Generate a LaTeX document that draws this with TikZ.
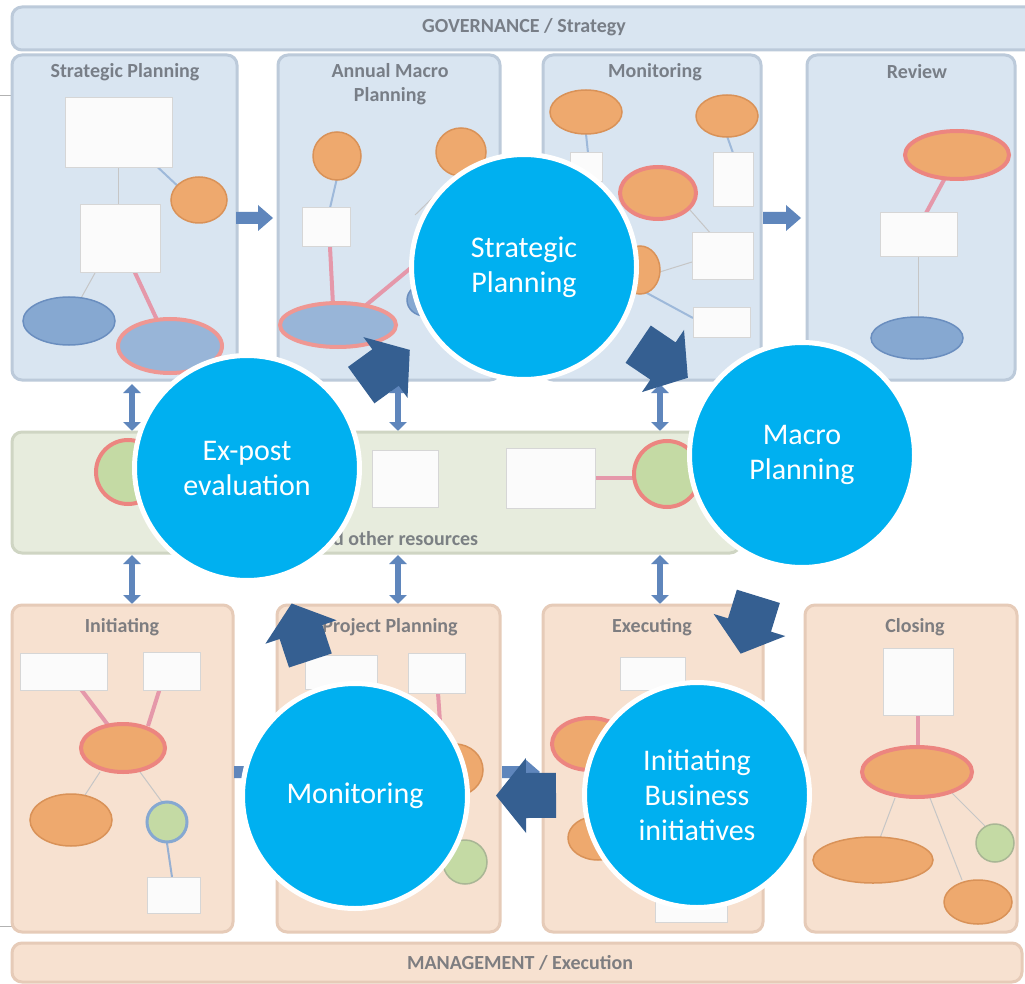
\documentclass[tikz,border=0pt]{standalone}
\usepackage{fontspec}
\setmainfont{Carlito}
\usetikzlibrary{calc,arrows.meta}

\definecolor{cyanc}{HTML}{00B0F0}
\definecolor{arrowblue}{HTML}{355F91}
\definecolor{topfill}{HTML}{D9E5F1}
\definecolor{topedge}{HTML}{BCCADA}
\definecolor{greenfill}{HTML}{E7ECDD}
\definecolor{greenedge}{HTML}{CFD5C3}
\definecolor{peach}{HTML}{F7E1D0}
\definecolor{peachedge}{HTML}{E6CBB8}
\definecolor{orangeE}{HTML}{EEA96E}
\definecolor{orangeEdge}{HTML}{D99258}
\definecolor{redring}{HTML}{EC8580}
\definecolor{blueE}{HTML}{86A8D1}
\definecolor{blueEdge}{HTML}{6A8EBF}
\definecolor{pinkline}{HTML}{E598AA}
\definecolor{docfill}{HTML}{FBFBFB}
\definecolor{docedge}{HTML}{D6D6D6}
\definecolor{smallarrow}{HTML}{5F86BC}
\definecolor{titlegray}{HTML}{60656D}
\definecolor{greenC}{HTML}{C4DAA4}

\tikzset{
  panel/.style={rounded corners=10pt, line width=3pt},
  toppanel/.style={panel, fill=topfill, draw=topedge},
  greenpanel/.style={panel, fill=greenfill, draw=greenedge},
  peachpanel/.style={panel, fill=peach, draw=peachedge},
  ttl/.style={text=titlegray, font=\fontsize{20}{24}\selectfont\bfseries, opacity=0.8, align=center},
  doc/.style={fill=docfill, draw=docedge, line width=1pt},
  orangeell/.style={fill=orangeE, draw=orangeEdge, line width=1.5pt},
  redringell/.style={fill=orangeE, draw=redring, line width=4pt},
  blueell/.style={fill=blueE, draw=blueEdge, line width=1.5pt},
  blueredell/.style={fill=blueE!85!white, draw=redring!85!white, line width=4pt},
  greenring/.style={fill=greenC, draw=redring, line width=4pt},
  pinkln/.style={draw=pinkline, line width=4pt},
  grayln/.style={draw=gray!45, line width=1pt},
  blueln/.style={draw=blueE!80!white, line width=2pt},
  smallarr/.style={fill=smallarrow},
  vdouble/.style={draw=smallarrow, line width=6pt,
    {Triangle[width=17pt,length=9pt]}-{Triangle[width=17pt,length=9pt]}},
  stage/.style={circle, fill=cyanc, draw=white, line width=5pt,
    minimum size=225pt, inner sep=0pt, text=white, align=center,
    font=\fontsize{30}{35}\selectfont},
  blockarrow/.style={fill=arrowblue, draw=none, to path={
    ($(\tikztostart)!0.5!(\tikztotarget)$) coordinate (ba-m)
    ($(ba-m)!30pt!(\tikztotarget)$) coordinate (ba-t)
    ($(ba-m)!-30pt!(\tikztotarget)$) coordinate (ba-s)
    ($(ba-s)!22.5pt!90:(\tikztotarget)$) -- ($(ba-m)!22.5pt!90:(\tikztotarget)$)
    -- ($(ba-m)!37.5pt!90:(\tikztotarget)$) -- (ba-t)
    -- ($(ba-m)!37.5pt!-90:(\tikztotarget)$) -- ($(ba-m)!22.5pt!-90:(\tikztotarget)$)
    -- ($(ba-s)!22.5pt!-90:(\tikztotarget)$) -- cycle}}
}

\begin{document}
\begin{tikzpicture}[x=1pt,y=-1pt]
\useasboundingbox (0,0) rectangle (1025,984);
\fill[white] (0,0) rectangle (1025,984);

% left edge rules
\draw[gray!60, line width=1pt] (0,96) -- (12,96);
\draw[gray!60, line width=1pt] (0,926) -- (12,926);

% top bar
\draw[panel, fill=topfill, draw=topedge] (12,7) rectangle (1045,50);
\node[ttl] (gov) at (524,27) {GOVERNANCE / Strategy};

% top panels
\draw[toppanel] (12,55) rectangle (237,380);
\draw[toppanel] (278,55) rectangle (500,380);
\draw[toppanel] (543,55) rectangle (761,380);
\draw[toppanel] (807,55) rectangle (1015,380);
\node[ttl] (t1) at (125,72) {Strategic Planning};
\node[ttl] (t2) at (390,84) {Annual Macro\\Planning};
\node[ttl] (t3) at (655,72) {Monitoring};
\node[ttl] (t4) at (917,72) {Review};

% arrows between top panels
\fill[smallarr] (236,212) -- (258,212) -- (258,205) -- (273,218) -- (258,231) -- (258,224) -- (236,224) -- cycle;
\fill[smallarr] (502,212) -- (526,212) -- (526,205) -- (541,218) -- (526,231) -- (526,224) -- (502,224) -- cycle;
\fill[smallarr] (763,212) -- (786,212) -- (786,205) -- (801,218) -- (786,231) -- (786,224) -- (763,224) -- cycle;

% panel 1 content
\draw[blueln] (150,160) -- (182,190);
\draw[grayln] (118,168) -- (118,205);
\draw[grayln] (95,273) -- (80,300);
\draw[pinkln] (130,262) -- (158,322);
\draw[doc] (65,98) rectangle (172,168);
\draw[doc] (80,205) rectangle (160,273);
\draw[orangeell] (199,200) ellipse [x radius=28, y radius=23];
\draw[blueell] (69,321) ellipse [x radius=46, y radius=24];
\draw[blueredell] (170,346) ellipse [x radius=52, y radius=27];

% panel 2 content
\draw[blueln] (337,178) -- (330,208);
\draw[grayln] (455,176) -- (415,215);
\draw[pinkln] (330,247) -- (333,305);
\draw[pinkln] (365,306) -- (418,262);
\draw[doc] (302,208) rectangle (350,247);
\draw[orangeell] (337,156) ellipse [x radius=24, y radius=24];
\draw[orangeell] (461,152) ellipse [x radius=25, y radius=24];
\draw[blueredell] (338,325) ellipse [x radius=58, y radius=22];
\draw[blueell] (425,300) ellipse [x radius=18, y radius=16];

% panel 3 content
\draw[blueln] (586,134) -- (588,153);
\draw[blueln] (727,136) -- (733,153);
\draw[grayln] (690,210) -- (712,235);
\draw[grayln] (650,275) -- (692,262);
\draw[blueln] (645,292) -- (693,318);
\draw[doc] (570,153) rectangle (602,182);
\draw[doc] (713,153) rectangle (753,207);
\draw[doc] (692,233) rectangle (753,280);
\draw[doc] (693,307) rectangle (750,337);
\draw[orangeell] (586,112) ellipse [x radius=36, y radius=22];
\draw[orangeell] (727,116) ellipse [x radius=31, y radius=21];
\draw[redringell] (658,193) ellipse [x radius=38, y radius=26];
\draw[orangeell] (640,270) ellipse [x radius=20, y radius=24];

% panel 4 content
\draw[pinkln] (945,178) -- (925,215);
\draw[grayln] (918,257) -- (918,318);
\draw[doc] (880,213) rectangle (957,257);
\draw[redringell] (957,155) ellipse [x radius=52, y radius=24];
\draw[blueell] (917,338) ellipse [x radius=46, y radius=21];

% vertical double arrows
\foreach \xx in {132,398,660}{
  \draw[vdouble] (\xx,384) -- (\xx,431);
  \draw[vdouble] (\xx,555) -- (\xx,604);
}

% green band
\draw[greenpanel] (12,432) rectangle (740,553);
\draw[greenring] (128,472) circle [radius=32];
\draw[pinkln] (595,478) -- (640,478);
\draw[doc] (372,450) rectangle (438,507);
\draw[doc] (506,448) rectangle (595,508);
\draw[greenring] (667,474) circle [radius=33];
\node[ttl, anchor=west] (res) at (309,539) {and other resources};

% bottom panels
\draw[peachpanel] (12,605) rectangle (233,932);
\draw[peachpanel] (277,605) rectangle (500,932);
\draw[peachpanel] (543,605) rectangle (763,932);
\draw[peachpanel] (805,605) rectangle (1017,932);
\node[ttl] (b1) at (122,627) {Initiating};
\node[ttl] (b2) at (390,627) {Project Planning};
\node[ttl] (b3) at (652,627) {Executing};
\node[ttl] (b4) at (915,627) {Closing};

% arrows between bottom panels
\fill[smallarr] (234,766) -- (256,766) -- (256,759) -- (271,772) -- (256,785) -- (256,778) -- (234,778) -- cycle;
\fill[smallarr] (502,766) -- (525,766) -- (525,759) -- (540,772) -- (525,785) -- (525,778) -- (502,778) -- cycle;
\fill[smallarr] (765,766) -- (787,766) -- (787,759) -- (802,772) -- (787,785) -- (787,778) -- (765,778) -- cycle;

% Initiating content
\draw[pinkln] (80,688) -- (108,725);
\draw[pinkln] (160,688) -- (148,726);
\draw[grayln] (100,772) -- (85,795);
\draw[grayln] (140,772) -- (162,802);
\draw[draw=blueEdge!70, line width=2pt] (167,843) -- (172,877);
\draw[doc] (20,653) rectangle (107,690);
\draw[doc] (143,652) rectangle (200,690);
\draw[redringell] (123,748) ellipse [x radius=42, y radius=24];
\draw[orangeell] (71,820) ellipse [x radius=41, y radius=26];
\draw[fill=greenC, draw=blueE, line width=3pt] (167,822) circle [radius=20];
\draw[doc] (147,877) rectangle (200,913);

% Project planning content
\draw[pinkln] (438,693) -- (440,722);
\draw[doc] (305,655) rectangle (377,689);
\draw[doc] (408,653) rectangle (465,693);
\draw[orangeell] (455,770) ellipse [x radius=28, y radius=26];
\draw[fill=greenC, draw=greenC!60!gray, line width=1.5pt] (465,862) circle [radius=22];

% Executing content
\draw[doc] (620,657) rectangle (685,690);
\draw[redringell] (590,744) ellipse [x radius=38, y radius=26];
\draw[orangeell] (598,838) ellipse [x radius=30, y radius=22];
\draw[doc] (655,895) rectangle (727,922);

% Closing content
\draw[pinkln] (918,715) -- (918,748);
\draw[grayln] (895,798) -- (880,838);
\draw[grayln] (930,798) -- (962,880);
\draw[grayln] (952,793) -- (985,826);
\draw[doc] (883,648) rectangle (953,715);
\draw[redringell] (917,772) ellipse [x radius=55, y radius=25];
\draw[orangeell] (873,860) ellipse [x radius=60, y radius=23];
\draw[fill=greenC, draw=greenC!60!gray, line width=1.5pt] (995,843) circle [radius=19];
\draw[orangeell] (978,902) ellipse [x radius=34, y radius=22];

% bottom bar
\draw[panel, fill=peach, draw=peachedge] (12,943) rectangle (1022,982);
\node[ttl] (mgmt) at (520,963) {MANAGEMENT / Execution};

% main cycle
\node[stage] (sp) at (524,267) {Strategic\\Planning};
\node[stage] (mp) at (802,455) {Macro\\Planning};
\node[stage] (bi) at (697,795) {Initiating\\Business\\initiatives};
\node[stage] (mo) at (355,796) {Monitoring};
\node[stage] (ep) at (247,468) {Ex-post\\evaluation};

\path[blockarrow] (sp) to (mp);
\path[blockarrow] (mp) to (bi);
\path[blockarrow] (bi) to (mo);
\path[blockarrow] (mo) to (ep);
\path[blockarrow] (ep) to (sp);
\end{tikzpicture}
\end{document}
